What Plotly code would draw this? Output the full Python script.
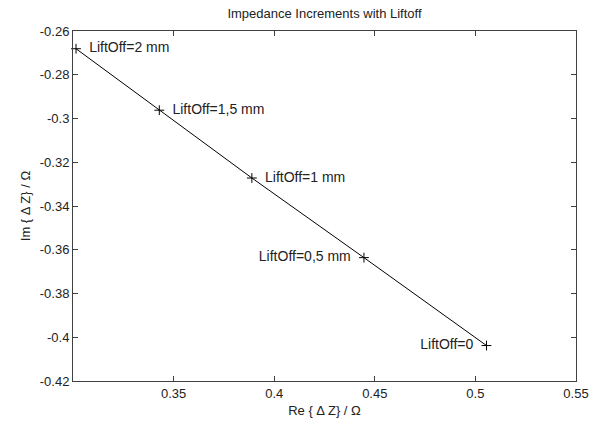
import plotly.graph_objects as go

re_vals = [0.3015, 0.3429, 0.3889, 0.4446, 0.5055]
im_vals = [-0.2681, -0.2962, -0.3272, -0.3636, -0.4038]
labels = ["  LiftOff=2 mm", "  LiftOff=1,5 mm", "  LiftOff=1 mm", "LiftOff=0,5 mm  ", "LiftOff=0  "]
label_pos = ["middle right", "middle right", "middle right", "middle left", "middle left"]

x_ticks = [0.35, 0.4, 0.45, 0.5, 0.55]
y_ticks = [-0.26, -0.28, -0.3, -0.32, -0.34, -0.36, -0.38, -0.4, -0.42]

font = dict(family="Liberation Sans, Arial, sans-serif", size=13, color="#222222")
label_font = dict(family="Liberation Sans, Arial, sans-serif", size=14, color="#222222")

fig = go.Figure()
fig.add_trace(go.Scatter(
    x=re_vals, y=im_vals, mode="lines+markers+text",
    line=dict(color="black", width=1),
    marker=dict(symbol="cross-thin", size=7, line=dict(color="black", width=1), color="black"),
    text=labels, textposition=label_pos,
    textfont=label_font, showlegend=False, cliponaxis=False,
))

axis_common = dict(
    showgrid=False, zeroline=False, showline=True, linecolor="#404040", linewidth=1,
    mirror="ticks", ticks="inside", ticklen=5, tickcolor="#404040",
    tickfont=font,
)

fig.update_layout(
    width=603, height=428,
    margin=dict(l=73, r=27, t=31, b=40),
    paper_bgcolor="white", plot_bgcolor="white",
    font=font,
    title=dict(text="Impedance Increments with Liftoff", x=(73 + 576) / 2 / 603, xanchor="center",
               y=1 - 13 / 428, yanchor="middle", yref="container", font=font),
    xaxis=dict(range=[0.3, 0.55], tickvals=x_ticks, ticktext=[str(v) for v in x_ticks],
               title=dict(text="Re { Δ Z} / Ω", font=font, standoff=6), **axis_common),
    yaxis=dict(range=[-0.42, -0.26], tickvals=y_ticks, ticktext=[str(v) for v in y_ticks],
               title=dict(text="Im { Δ Z} / Ω", font=font, standoff=6), **axis_common),
)

fig.write_html("out.html")
